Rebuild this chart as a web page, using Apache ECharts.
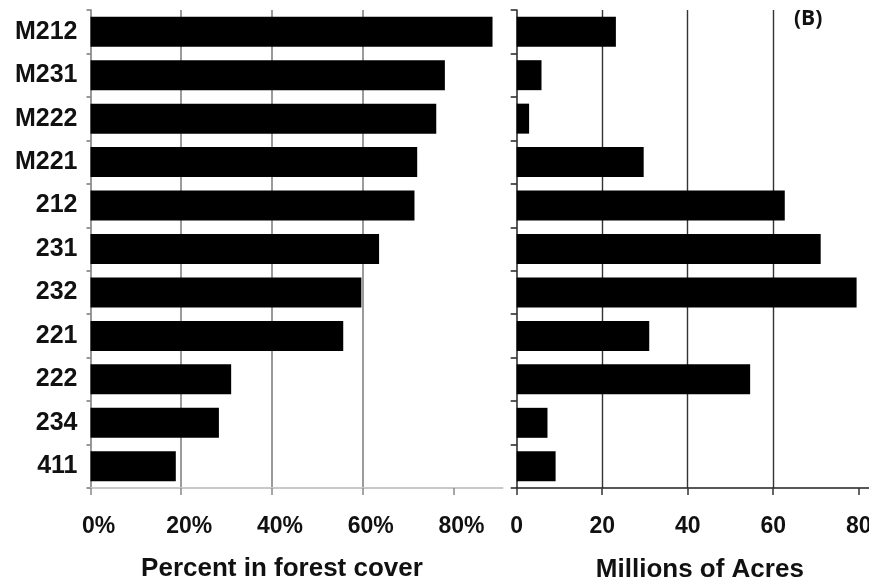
<!DOCTYPE html>
<html>
<head>
<meta charset="utf-8">
<script src="https://cdn.jsdelivr.net/npm/echarts@6/dist/echarts.min.js"></script>
<style>
  html, body { margin: 0; padding: 0; background: #fff; }
  #main { width: 869px; height: 583px; }
</style>
</head>
<body>
<div id="main"></div>
<script>
// ecoregion sections, top to bottom
var sections = ['M212', 'M231', 'M222', 'M221', '212', '231', '232', '221', '222', '234', '411'];
// percent in forest cover (%)
var forestPct = [88.6, 78.1, 76.2, 72.0, 71.4, 63.6, 59.7, 55.7, 31.0, 28.3, 18.8];
// forest area, millions of acres
var forestAcres = [23.2, 5.8, 2.9, 29.7, 62.7, 71.1, 79.5, 31.0, 54.6, 7.2, 9.1];
// tick labels
var pctTicks = [0, 20, 40, 60, 80];
var acreTicks = [0, 20, 40, 60, 80];

var fontFam = '"Liberation Sans", Arial, sans-serif';

var myChart = echarts.init(document.getElementById('main'));

var option = {
    animation: false,
    backgroundColor: '#fff',
    graphic: [{
        type: 'text',
        left: 794,
        top: 9,
        style: {
            text: '(B)',
            font: 'bold 21px "Open Sans", sans-serif',
            fill: '#111'
        }
    }],
    grid: [{
        left: 90.5,
        top: 10,
        width: 412,
        height: 478,
        containLabel: false,
        outerBoundsMode: 'none'
    }, {
        left: 516.7,
        top: 10,
        width: 352.3,
        height: 478,
        containLabel: false,
        outerBoundsMode: 'none'
    }],
    xAxis: [{
        // left panel, percent
        gridIndex: 0,
        type: 'value',
        min: 0,
        max: 90.8,
        interval: 20,
        name: 'Percent in forest cover',
        nameLocation: 'middle',
        nameGap: 68,
        nameTextStyle: {
            fontFamily: fontFam,
            fontWeight: 'bold',
            fontSize: 26,
            color: '#111',
            padding: [0, 29, 0, 0]
        },
        axisLine: { show: true, lineStyle: { color: '#c8c8c8', width: 2 } },
        axisTick: {
            show: true,
            length: 7,
            customValues: pctTicks,
            lineStyle: { color: '#888', width: 1.5 }
        },
        axisLabel: {
            customValues: pctTicks,
            formatter: '{value}%',
            margin: 27,
            padding: [0, 0, 0, 16],
            fontFamily: fontFam,
            fontWeight: 'bold',
            fontSize: 23,
            color: '#111'
        },
        splitLine: {
            show: true,
            showMinLine: false,
            showMaxLine: false,
            lineStyle: { color: '#7a7a7a', width: 1.5 }
        }
    }, {
        // right panel, acres
        gridIndex: 1,
        type: 'value',
        min: 0,
        max: 82.4,
        interval: 20,
        name: 'Millions of Acres',
        nameLocation: 'middle',
        nameGap: 69,
        nameTextStyle: {
            fontFamily: fontFam,
            fontWeight: 'bold',
            fontSize: 26,
            color: '#111',
            padding: [0, 0, 0, 14]
        },
        axisLine: { show: true, lineStyle: { color: '#222', width: 1.5 } },
        axisTick: {
            show: true,
            length: 7,
            customValues: acreTicks,
            lineStyle: { color: '#333', width: 1.5 }
        },
        axisLabel: {
            customValues: acreTicks,
            margin: 27,
            fontFamily: fontFam,
            fontWeight: 'bold',
            fontSize: 23,
            color: '#111'
        },
        splitLine: {
            show: true,
            showMinLine: false,
            showMaxLine: false,
            lineStyle: { color: '#333', width: 1.4 }
        }
    }],
    yAxis: [{
        gridIndex: 0,
        type: 'category',
        inverse: true,
        data: sections,
        axisLine: { show: true, lineStyle: { color: '#999', width: 2 } },
        axisTick: { show: true, length: 4, lineStyle: { color: '#777', width: 1.5 } },
        axisLabel: {
            margin: 13,
            fontFamily: fontFam,
            fontWeight: 'bold',
            fontSize: 25,
            color: '#111'
        },
        splitLine: { show: false }
    }, {
        gridIndex: 1,
        type: 'category',
        inverse: true,
        data: sections,
        axisLine: { show: true, lineStyle: { color: '#222', width: 1.5 } },
        axisTick: { show: true, length: 6, lineStyle: { color: '#222', width: 1.5 } },
        axisLabel: { show: false },
        splitLine: { show: false }
    }],
    series: [{
        name: 'Percent in forest cover',
        type: 'bar',
        xAxisIndex: 0,
        yAxisIndex: 0,
        barCategoryGap: '31%',
        itemStyle: { color: '#000' },
        data: forestPct
    }, {
        name: 'Millions of Acres',
        type: 'bar',
        xAxisIndex: 1,
        yAxisIndex: 1,
        barCategoryGap: '31%',
        itemStyle: { color: '#000' },
        data: forestAcres
    }]
};

myChart.setOption(option);
</script>
</body>
</html>
